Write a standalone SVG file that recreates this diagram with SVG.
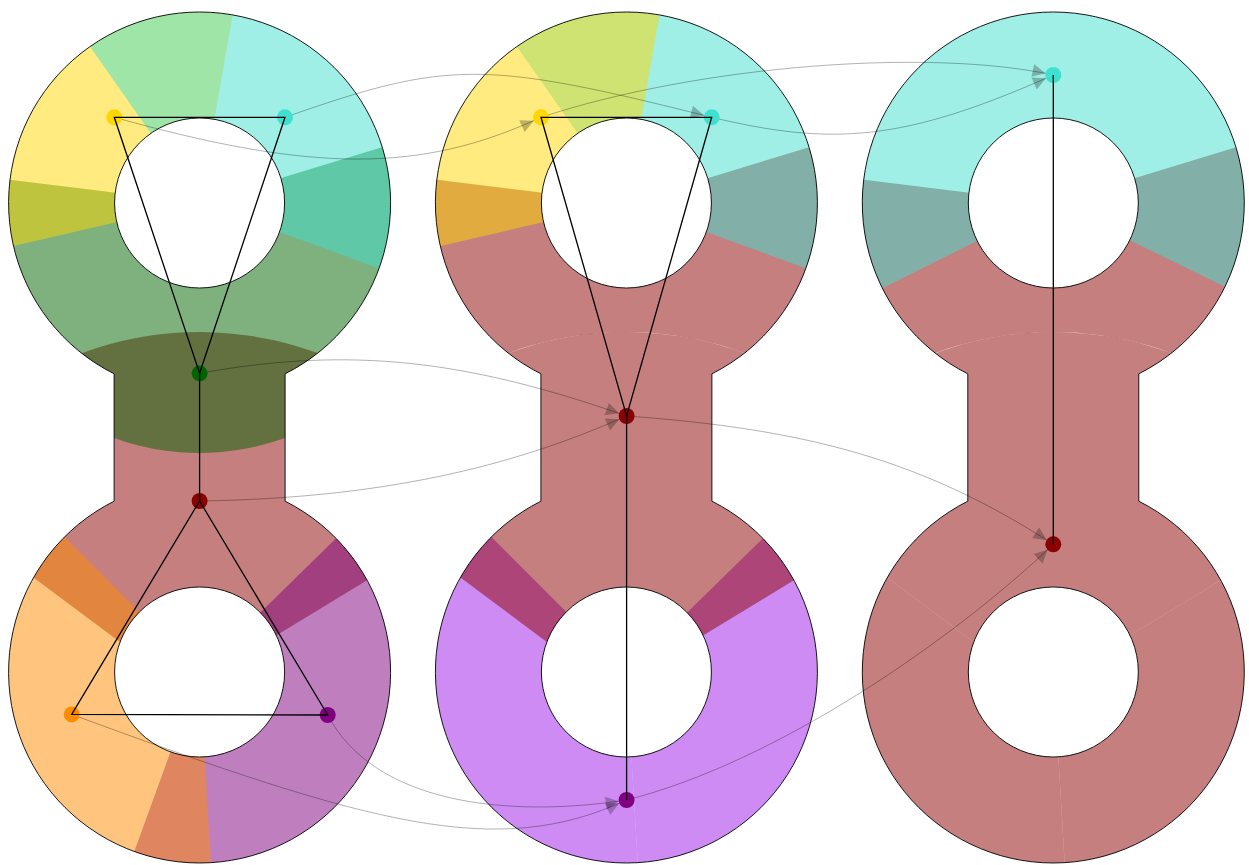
<svg xmlns="http://www.w3.org/2000/svg" width="1249" height="865" viewBox="0 0 1249 865">
<style>
.out{fill:none;stroke:#000;stroke-width:0.9}
.r{fill-opacity:0.5;stroke:none}
.gold{fill:#FFD700}
.turq{fill:#40E0D0}
.dgreen{fill:#006400}
.dred{fill:#8B0000}
.dorange{fill:#FF8C00}
.purple{fill:#800080}
.violet{fill:#9D17E7}
.conn{fill:none;stroke:#000;stroke-opacity:0.3;stroke-width:1;marker-end:url(#arr)}
.tri{fill:none;stroke:#000;stroke-width:1.3}
.dot{stroke:none}
</style>
<defs>
<clipPath id="dbclip" clipPathUnits="userSpaceOnUse">
<path clip-rule="evenodd" d="M-85.5,373.8 A191,191 0 1 1 85.5,373.8 L85.5,501.2 A191,191 0 1 1 -85.5,501.2 Z M-85,203 a85,85 0 1 0 170,0 a85,85 0 1 0 -170,0 Z M-85,672 a85,85 0 1 0 170,0 a85,85 0 1 0 -170,0 Z"/>
</clipPath>
<marker id="arr" markerUnits="userSpaceOnUse" markerWidth="24" markerHeight="14" refX="21" refY="6.5" orient="auto" overflow="visible">
<path d="M0,0 L13,6.5 L0,13 Z" fill="#000" fill-opacity="0.25"/>
</marker>
</defs>

<g id="panel1-regions" transform="translate(199.6,0)">
<g clip-path="url(#dbclip)">
<path class="r dred" d="M-14.4,690.8 L-285.9,488 A340,340 0 0 1 294.9,502.8 Z"/>
<path class="r purple" d="M0,672 L142.9,532.1 A200,200 0 0 1 -68.4,859.9 Z"/>
<path class="r dorange" d="M0,672 L11.9,871.6 A200,200 0 0 1 -141.4,530.6 Z"/>
<path class="r dgreen" d="M0,203 L239.1,129.9 A250,250 0 1 1 -248.1,172.5 Z"/>
<path class="r gold" d="M0,203 L-194.9,248 A200,200 0 0 1 34.7,6 Z"/>
<path class="r turq" d="M0,203 L-114.7,39.2 A200,200 0 0 1 187.9,271.4 Z"/>
</g>
<path class="out" d="M-85.5,373.8 A191,191 0 1 1 85.5,373.8 L85.5,501.2 A191,191 0 1 1 -85.5,501.2 Z M-85,203 a85,85 0 1 0 170,0 a85,85 0 1 0 -170,0 Z M-85,672 a85,85 0 1 0 170,0 a85,85 0 1 0 -170,0 Z"/>
</g>

<g id="panel2-regions" transform="translate(626.4,0)">
<g clip-path="url(#dbclip)">
<path class="r violet" d="M0,672 L142.9,532.1 A200,200 0 0 1 11.9,871.6 Z"/>
<path class="r violet" d="M0,672 L11.9,871.6 A200,200 0 0 1 -141.4,530.6 Z"/>
<path class="r dred" d="M-14.4,690.8 L-285.9,488 A340,340 0 0 1 294.9,502.8 Z"/>
<path class="r dred" d="M0,203 L248.6,127 A260,260 0 0 1 184.4,386.3 A340,340 0 0 0 -184.4,386.3 A260,260 0 0 1 -258.1,171.3 Z"/>
<path class="r turq" d="M0,203 L-114.7,39.2 A200,200 0 0 1 187.9,271.4 Z"/>
<path class="r gold" d="M0,203 L-194.9,248 A200,200 0 0 1 34.7,6 Z"/>
</g>
<path class="out" d="M-85.5,373.8 A191,191 0 1 1 85.5,373.8 L85.5,501.2 A191,191 0 1 1 -85.5,501.2 Z M-85,203 a85,85 0 1 0 170,0 a85,85 0 1 0 -170,0 Z M-85,672 a85,85 0 1 0 170,0 a85,85 0 1 0 -170,0 Z"/>
</g>

<g id="panel3-regions" transform="translate(1053.3,0)">
<g clip-path="url(#dbclip)">
<path class="r dred" d="M-14.4,690.8 L-285.9,488 A340,340 0 0 1 294.9,502.8 Z"/>
<path class="r dred" d="M-14.4,690.8 L-285.9,488 L-300,972 L17.8,971.5 L0,672 Z"/>
<path class="r dred" d="M-14.4,690.8 L0,672 L17.8,971.5 L300,972 L294.9,502.8 Z"/>
<path class="r dred" d="M0,203 L248.6,127 A260,260 0 0 1 184.4,386.3 A340,340 0 0 0 -184.4,386.3 A260,260 0 0 1 -258.1,171.3 Z"/>
<path class="r turq" d="M0,203 L-179,292.2 A200,200 0 1 1 179.8,290.7 Z"/>
</g>
<path class="out" d="M-85.5,373.8 A191,191 0 1 1 85.5,373.8 L85.5,501.2 A191,191 0 1 1 -85.5,501.2 Z M-85,203 a85,85 0 1 0 170,0 a85,85 0 1 0 -170,0 Z M-85,672 a85,85 0 1 0 170,0 a85,85 0 1 0 -170,0 Z"/>
</g>

<g id="connectors">
<path class="conn" d="M114.3,117.3 C314,173 421,173 541,117.3"/>
<path class="conn" d="M285,117.3 C448,60 484,60 711.7,117.3"/>
<path class="conn" d="M541,117.3 C700,65 930,48 1053.3,75"/>
<path class="conn" d="M711.7,117.3 C832,146 903,142 1053.3,75"/>
<path class="conn" d="M199.6,373.3 C350,346 467,360 626.6,416"/>
<path class="conn" d="M199.6,501 C400,498 527,460 626.6,416"/>
<path class="conn" d="M626.6,416 C807,429 923,460 1053.3,544.3"/>
<path class="conn" d="M626.6,800 C777,762 953,640 1053.3,544.3"/>
<path class="conn" d="M71.7,714.4 C372,825 497,860 626.6,800"/>
<path class="conn" d="M327.7,715 C375,805 510,818 626.6,800"/>
</g>

<g id="p1-yellow"><circle class="dot gold" cx="114.3" cy="117.3" r="8"/></g>
<g id="p1-cyan"><circle class="dot turq" cx="285" cy="117.3" r="8"/></g>
<g id="p1-green"><circle class="dot dgreen" cx="199.6" cy="373.3" r="8"/></g>
<g id="p1-red"><circle class="dot dred" cx="199.6" cy="501" r="8"/></g>
<g id="p1-orange"><circle class="dot dorange" cx="71.7" cy="714.4" r="8"/></g>
<g id="p1-purple"><circle class="dot purple" cx="327.7" cy="715" r="8"/></g>
<g id="p2-yellow"><circle class="dot gold" cx="541" cy="117.3" r="8"/></g>
<g id="p2-cyan"><circle class="dot turq" cx="711.7" cy="117.3" r="8"/></g>
<g id="p2-red"><circle class="dot dred" cx="626.6" cy="416" r="8"/></g>
<g id="p2-purple"><circle class="dot purple" cx="626.6" cy="800" r="8"/></g>
<g id="p3-cyan"><circle class="dot turq" cx="1053.3" cy="75" r="8"/></g>
<g id="p3-red"><circle class="dot dred" cx="1053.3" cy="544.3" r="8"/></g>

<g id="edges">
<path class="tri" d="M114.3,117.3 L285,117.3 L199.6,373.3 Z"/>
<path class="tri" d="M199.6,373.3 L199.6,501"/>
<path class="tri" d="M199.6,501 L71.7,714.4 L327.7,715 Z"/>
<path class="tri" d="M541,117.3 L711.7,117.3 L626.6,416 Z"/>
<path class="tri" d="M626.6,416 L626.6,800"/>
<path class="tri" d="M1053.3,75 L1053.3,544.3"/>
</g>
</svg>
